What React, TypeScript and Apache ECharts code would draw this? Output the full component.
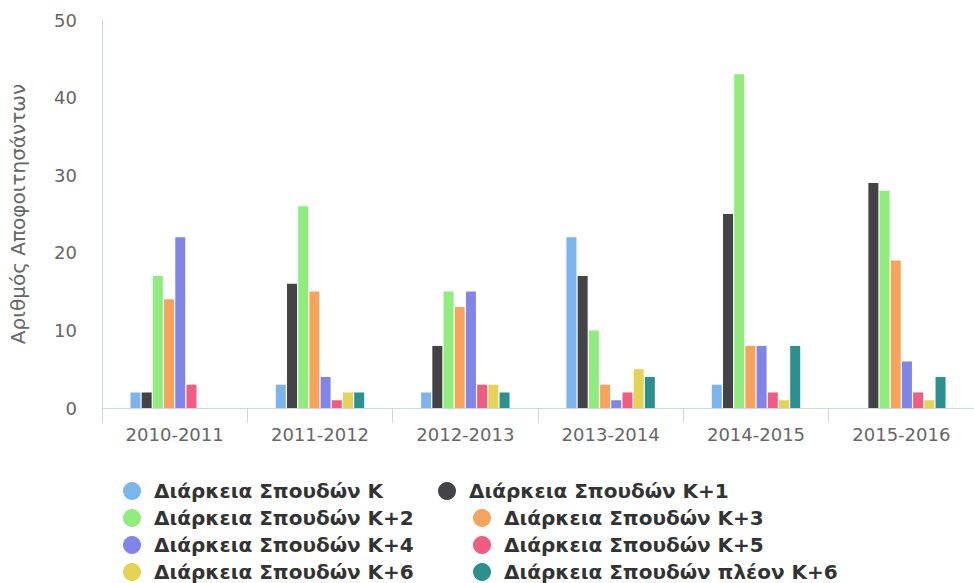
import React, { useEffect, useRef } from "react";
import * as echarts from "echarts";

const categories = ["2010-2011", "2011-2012", "2012-2013", "2013-2014", "2014-2015", "2015-2016"];
const seriesNames = [
  "Διάρκεια Σπουδών Κ",
  "Διάρκεια Σπουδών Κ+1",
  "Διάρκεια Σπουδών Κ+2",
  "Διάρκεια Σπουδών Κ+3",
  "Διάρκεια Σπουδών Κ+4",
  "Διάρκεια Σπουδών Κ+5",
  "Διάρκεια Σπουδών Κ+6",
  "Διάρκεια Σπουδών πλέον Κ+6",
];
const valuesK = [2, 3, 2, 22, 3, 0];
const valuesK1 = [2, 16, 8, 17, 25, 29];
const valuesK2 = [17, 26, 15, 10, 43, 28];
const valuesK3 = [14, 15, 13, 3, 8, 19];
const valuesK4 = [22, 4, 15, 1, 8, 6];
const valuesK5 = [3, 1, 3, 2, 2, 2];
const valuesK6 = [0, 2, 3, 5, 1, 1];
const valuesMoreK6 = [0, 2, 2, 4, 8, 4];
const colors = ["#7cb5ec", "#434348", "#90ed7d", "#f7a35c", "#8085e9", "#f15c80", "#e4d354", "#2b908f"];
const yTicks = { min: 0, max: 50, interval: 10 };
const yAxisTitle = "Αριθμός Αποφοιτησάντων";

const allValues = [valuesK, valuesK1, valuesK2, valuesK3, valuesK4, valuesK5, valuesK6, valuesMoreK6];

const FONT = "'DejaVu Sans', 'Noto Sans', sans-serif";

export default function App() {
  const ref = useRef<HTMLDivElement>(null);
  useEffect(() => {
    if (!ref.current) return;
    const chart = echarts.init(ref.current, undefined, { renderer: "svg" });
    const legendText = {
      fontFamily: FONT,
      fontSize: 20,
      fontWeight: "bold",
      color: "#333333",
      lineHeight: 18,
      padding: [0, 0, 0, 8],
    };
    const legendBase = {
      orient: "vertical",
      icon: "circle",
      itemWidth: 18,
      itemHeight: 18,
      itemGap: 7,
      textStyle: legendText,
      padding: 0,
      height: 140,
      selectedMode: false,
    };
    chart.setOption({
      animation: false,
      color: colors,
      grid: { left: 97, right: -11, top: 20, bottom: 175, containLabel: false },
      legend: [
        { ...legendBase, left: 123, top: 481, data: [seriesNames[0], seriesNames[2], seriesNames[4], seriesNames[6]] },
        { ...legendBase, left: 438, top: 481, data: [seriesNames[1]] },
        { ...legendBase, left: 473, top: 508, data: [seriesNames[3], seriesNames[5], seriesNames[7]] },
      ],
      xAxis: {
        type: "category",
        data: categories,
        axisLine: { lineStyle: { color: "#ccd6eb", width: 1 } },
        axisTick: { show: true, length: 15, lineStyle: { color: "#ccd6eb" } },
        axisLabel: { fontFamily: FONT, fontSize: 18, color: "#666666", margin: 17 },
      },
      yAxis: {
        type: "value",
        min: yTicks.min,
        max: yTicks.max,
        interval: yTicks.interval,
        name: yAxisTitle,
        nameLocation: "middle",
        nameRotate: 90,
        nameGap: 74,
        nameTextStyle: { fontFamily: FONT, fontSize: 20, color: "#666666" },
        axisLine: { show: true, lineStyle: { color: "#ccd6eb", width: 1 } },
        axisTick: { show: false },
        splitLine: { show: false },
        axisLabel: { fontFamily: FONT, fontSize: 18, color: "#666666", margin: 25 },
      },
      series: allValues.map((vals, i) => ({
        name: seriesNames[i],
        type: "bar",
        data: vals,
        barWidth: 10,
        barGap: "12%",
        itemStyle: { color: colors[i] },
      })),
    });
    return () => chart.dispose();
  }, []);
  return <div ref={ref} style={{ position: "fixed", left: 0, top: 0, width: 974, height: 583, background: "#ffffff" }} />;
}
